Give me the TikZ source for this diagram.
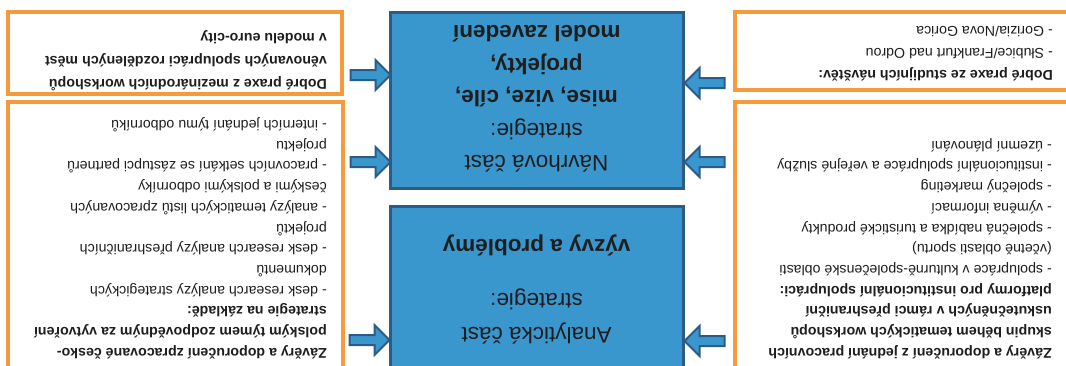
\documentclass[tikz,border=0pt]{standalone}
\usepackage{fontspec}
\setmainfont{Liberation Sans}
\usetikzlibrary{shapes.arrows}
\definecolor{orangeC}{HTML}{F79A3B}
\definecolor{blueF}{HTML}{3A97CE}
\definecolor{blueD}{HTML}{2D5B86}
\definecolor{txt}{HTML}{1E1E1E}
\begin{document}
\begin{tikzpicture}[x=1pt,y=-1pt,
  obox/.style={draw=orangeC, line width=4pt, fill=white, inner sep=0pt},
  bbox/.style={draw=blueD, line width=3pt, fill=blueF, inner sep=0pt},
  barrow/.style={single arrow, draw=blueD, fill=blueF, line width=2pt,
    inner xsep=0pt, inner ysep=4pt, single arrow head extend=10pt,
    single arrow head indent=0pt, minimum height=40pt},
  txtL/.style={rotate=180, anchor=north west, inner sep=0pt, align=left, text=txt,
    font=\fontsize{14.2}{20.7}\selectfont},
  txtC/.style={rotate=180, inner sep=0pt, align=center, text=txt,
    font=\fontsize{22.5}{32.5}\selectfont}]
\useasboundingbox (0,0) rectangle (1066,365);
\clip (0,0) rectangle (1066,365);
\fill[white] (0,0) rectangle (1066,365);
% boxes
\node[obox, minimum width=334pt, minimum height=81.5pt] (LT) at (175,52.75) {};
\node[obox, minimum width=335pt, minimum height=283pt] (LB) at (175.5,243.5) {};
\node[obox, minimum width=345pt, minimum height=78pt] (RT) at (907.5,51) {};
\node[obox, minimum width=345pt, minimum height=283pt] (RB) at (907.5,243.5) {};
\node[bbox, minimum width=293pt, minimum height=176pt] (BT) at (536.5,100) {};
\node[bbox, minimum width=293pt, minimum height=179pt] (BB) at (536.5,295.5) {};
% arrows
\node[barrow] (a1) at (368,75) {};
\node[barrow] (a2) at (368,162) {};
\node[barrow] (a3) at (367,340) {};
\node[barrow, shape border rotate=180] (a4) at (707,83) {};
\node[barrow, shape border rotate=180] (a5) at (707,162) {};
\node[barrow, shape border rotate=180] (a6) at (707,341) {};
% texts
\node[txtL, font=\fontsize{14.2}{23}\selectfont] (tLT) at (327,91) {\textbf{Dobré praxe z mezinárodních workshopů}\\
\textbf{věnovaných spolupráci rozdělených měst}\\
\textbf{v modelu euro-city}};
\node[txtL] (tLB) at (327,359) {\textbf{Závěry a doporučení zpracované česko-}\\
\textbf{polským týmem zodpovědným za vytvoření}\\
\textbf{strategie na základě:}\\
- desk research analýzy strategických\\
dokumentů\\
- desk research analýzy přeshraničních\\
projektů\\
- analýzy tematických listů zpracovaných\\
českými a polskými odborníky\\
- pracovních setkání se zástupci partnerů\\
projektu\\
- interních jednání týmu odborníků};
\node[txtL, font=\fontsize{14.2}{22}\selectfont] (tRT) at (1053,81) {\textbf{Dobré praxe ze studijních návštěv:}\\
- Słubice/Frankfurt nad Odrou\\
- Gorizia/Nova Gorica};
\node[txtL] (tRB) at (1052,359) {\textbf{Závěry a doporučení z jednání pracovních}\\
\textbf{skupin během tematických workshopů}\\
\textbf{uskutečněných v rámci přeshraniční}\\
\textbf{platformy pro institucionální spolupráci:}\\
- spolupráce v kulturně-společenské oblasti\\
(včetně oblasti sportu)\\
- společná nabídka a turistické produkty\\
- výměna informací\\
- společný marketing\\
- institucionální spolupráce a veřejné služby\\
- územní plánování};
\node[txtC] (tBT) at (536.5,99) {Návrhová část\\ strategie:\\ \textbf{mise, vize, cíle,}\\ \textbf{projekty,}\\ \textbf{model zavedení}};
\node[txtC, font=\fontsize{22.5}{34}\selectfont] (tBB) at (536.5,316) {Analytická část\\ strategie:};
\node[txtC] (tBB2) at (536.5,245) {\textbf{výzvy a problémy}};
\end{tikzpicture}
\end{document}
